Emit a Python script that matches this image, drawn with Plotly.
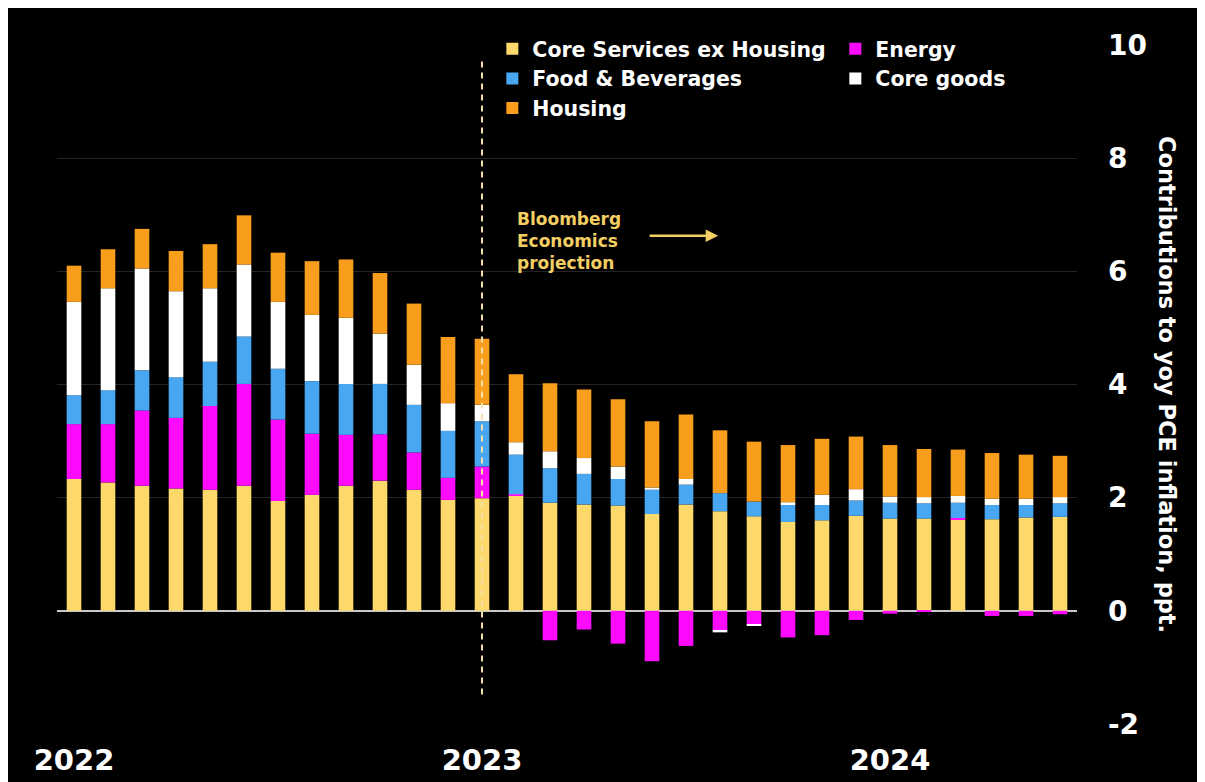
import plotly.graph_objects as go

months = [f"{y}-{m:02d}" for y in (2022, 2023, 2024) for m in range(1, 13)][:30]

core_services_ex_housing = [2.33, 2.27, 2.21, 2.16, 2.14, 2.21, 1.94, 2.05, 2.21, 2.30, 2.14, 1.96,
                            1.99, 2.04, 1.91, 1.88, 1.86, 1.71, 1.88, 1.76, 1.67, 1.57, 1.60, 1.68,
                            1.63, 1.63, 1.62, 1.62, 1.65, 1.66]
energy = [0.97, 1.03, 1.33, 1.25, 1.48, 1.80, 1.44, 1.08, 0.90, 0.82, 0.66, 0.39,
          0.56, 0.02, -0.52, -0.33, -0.58, -0.89, -0.62, -0.35, -0.24, -0.47, -0.43, -0.16,
          -0.05, -0.01, 0.02, -0.09, -0.09, -0.06]
food_beverages = [0.51, 0.60, 0.71, 0.72, 0.78, 0.84, 0.90, 0.93, 0.90, 0.89, 0.84, 0.83,
                  0.80, 0.70, 0.61, 0.54, 0.47, 0.43, 0.35, 0.32, 0.26, 0.30, 0.27, 0.27,
                  0.28, 0.27, 0.27, 0.25, 0.22, 0.24]
core_goods = [1.65, 1.80, 1.80, 1.52, 1.30, 1.27, 1.18, 1.17, 1.17, 0.89, 0.71, 0.49,
              0.29, 0.22, 0.30, 0.28, 0.22, 0.04, 0.10, -0.03, -0.02, 0.05, 0.18, 0.20,
              0.11, 0.11, 0.12, 0.11, 0.11, 0.11]
housing = [0.64, 0.69, 0.70, 0.71, 0.78, 0.87, 0.87, 0.95, 1.03, 1.07, 1.08, 1.17,
           1.17, 1.20, 1.20, 1.21, 1.19, 1.17, 1.14, 1.11, 1.06, 1.01, 0.99, 0.93,
           0.91, 0.85, 0.82, 0.81, 0.78, 0.73]

tick_months = ["2022-01", "2023-01", "2024-01"]
tick_labels = ["2022", "2023", "2024"]
y_ticks = [-2, 0, 2, 4, 6, 8, 10]
y_tick_labels = ["-2", "0", "2", "4", "6", "8", "10"]
projection_start = "2023-01"
projection_label = "Bloomberg<br>Economics<br>projection"
y_title = "Contributions to yoy PCE inflation, ppt."

series = [
    ("Core Services ex Housing", core_services_ex_housing, "#FDD96B"),
    ("Energy", energy, "#FF0AFF"),
    ("Food & Beverages", food_beverages, "#47A7F3"),
    ("Core goods", core_goods, "#FFFFFF"),
    ("Housing", housing, "#F99D1C"),
]

FONT = "DejaVu Sans"
fig = go.Figure()
for name, vals, col in series:
    fig.add_trace(go.Bar(x=months, y=vals, name=name, marker=dict(color=col, line=dict(width=0))))

fig.update_layout(
    width=1205, height=782,
    barmode="relative", bargap=0.57,
    paper_bgcolor="#000000", plot_bgcolor="#000000",
    margin=dict(l=48.5, r=136, t=36.5, b=65.5, autoexpand=False),
    font=dict(family=FONT, color="#FFFFFF", weight="bold"),
    showlegend=True,
    legend=dict(orientation="h", x=0.4268, y=1.0236, xanchor="left", yanchor="top",
                entrywidth=298, entrywidthmode="pixels",
                font=dict(family=FONT, size=20.5, color="#FFFFFF", weight="bold"),
                bgcolor="rgba(0,0,0,0)", traceorder="normal"),
    xaxis=dict(type="category", tickmode="array", tickvals=tick_months, ticktext=tick_labels,
               tickfont=dict(family=FONT, size=29, color="#FFFFFF", weight="bold"),
               showgrid=False, showline=False, ticks="", ticklabelstandoff=16,
               automargin=False),
    yaxis=dict(side="right", range=[-2, 10], tickmode="array", tickvals=y_ticks,
               ticktext=y_tick_labels, showgrid=True, gridcolor="#242424",
               zeroline=True, zerolinecolor="#C8C8C8", zerolinewidth=2,
               tickfont=dict(family=FONT, size=28, color="#FFFFFF", weight="bold"),
               ticks="", ticklabelstandoff=30, automargin=False),
)

fig.add_shape(type="line", xref="x", yref="y", x0=projection_start, x1=projection_start,
              y0=-1.48, y1=9.78, line=dict(color="#F5DFA8", width=2, dash="6px,5px"))

fig.add_annotation(x="2023-02", y=6.54, xref="x", yref="y", text=projection_label,
                   xanchor="left", yanchor="middle", align="left", showarrow=False, xshift=-1,
                   font=dict(family=FONT, size=17, color="#F3CF63", weight="bold"))
fig.add_annotation(x=0.6482, y=0.719, xref="paper", yref="paper", text="", showarrow=True,
                   ax=-70, ay=0, arrowhead=2, arrowsize=1, arrowwidth=2.5, arrowcolor="#F3CF63")
fig.add_annotation(x=1.0882, y=0.4993, xref="paper", yref="paper", text=y_title, textangle=90,
                   showarrow=False, xanchor="center", yanchor="middle",
                   font=dict(family=FONT, size=22.5, color="#FFFFFF", weight="bold"))

fig.write_html("out.html")
